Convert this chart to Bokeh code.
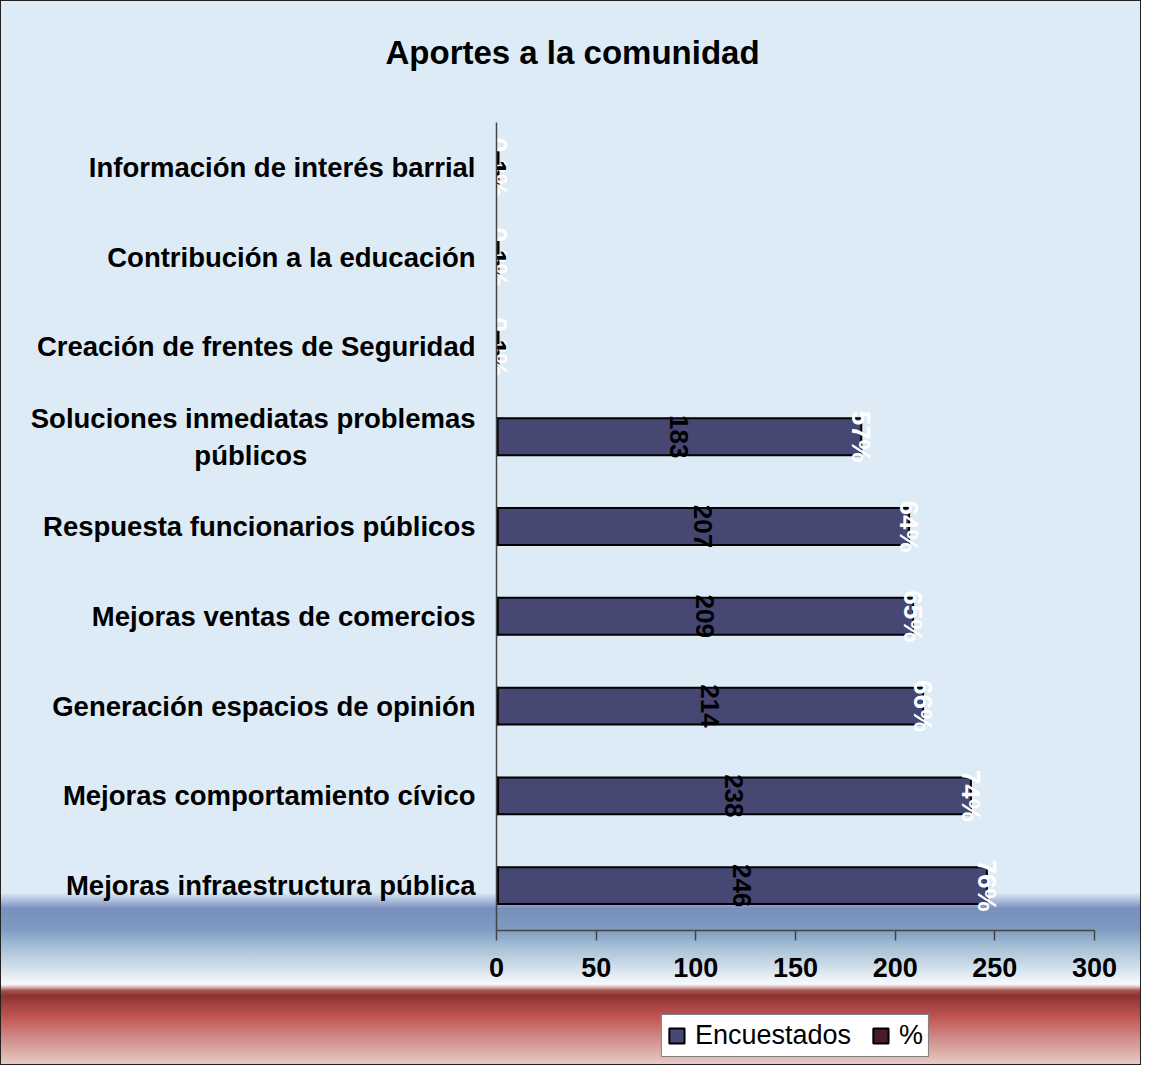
import math
from bokeh.plotting import figure
from bokeh.layouts import column
from bokeh.models import (ColumnDataSource, FactorRange, Range1d, SingleIntervalTicker,
                          Legend, LegendItem)
from bokeh.core.properties import value
from bokeh.embed import file_html
from bokeh.resources import INLINE

# ---- data (bottom to top) ----
categories = [
    "Mejoras infraestructura pública",
    "Mejoras comportamiento cívico",
    "Generación espacios de opinión",
    "Mejoras ventas de comercios",
    "Respuesta funcionarios públicos",
    # two-line label, second line padded so it sits centred under the first
    "Soluciones inmediatas problemas\npúblicos" + "\u00a0" * 22,
    "Creación de frentes de Seguridad",
    "Contribución a la educación",
    "Información de interés barrial",
]
encuestados = [246, 238, 214, 209, 207, 183, 1, 1, 1]
porcentaje = [0.7616, 0.7368, 0.6625, 0.6471, 0.6409, 0.5666, 0.0031, 0.0031, 0.0031]
x_ticks = [0, 50, 100, 150, 200, 250, 300]
series_names = ["Encuestados", "%"]
series_colors = ["#474774", "#4B1A2F"]
title_text = "Aportes a la comunidad"


def fmt_pct(v):
    if v >= 0.01:
        return f"{round(v * 100)}%"
    return f"{v * 100:.1f}%".replace(".", ",")


pct_labels = [fmt_pct(v) for v in porcentaje]
enc_labels = [str(v) for v in encuestados]
mid = [v / 2 for v in encuestados]

FONT = "Liberation Sans"
W = 1141
ML, MR = 496, 47


def strip(height, **kw):
    f = figure(width=W, height=height, output_backend="svg", toolbar_location=None,
               x_axis_type=None, y_axis_type=None,
               min_border_left=ML, min_border_right=MR, **kw)
    f.xgrid.visible = False
    f.ygrid.visible = False
    f.outline_line_color = None
    f.background_fill_alpha = 0
    f.border_fill_alpha = 0
    return f


# ---- title strip ----
pt = strip(122, title=title_text, min_border_top=0, min_border_bottom=0)
pt.title.align = "left"
pt.title.offset = -111
pt.title.standoff = 62
pt.title.text_font = FONT
pt.title.text_font_style = "bold"
pt.title.text_font_size = "33px"
pt.title.text_color = "black"

# ---- main chart ----
p = figure(width=W, height=878,
           y_range=FactorRange(factors=categories, range_padding=0),
           x_range=Range1d(x_ticks[0], x_ticks[-1]),
           output_backend="svg", toolbar_location=None, title=None,
           min_border_left=ML, min_border_right=MR,
           min_border_top=0, min_border_bottom=70)
p.xgrid.visible = False
p.ygrid.visible = False
p.outline_line_color = None
p.background_fill_alpha = 0
p.border_fill_alpha = 0

src = ColumnDataSource(dict(cat=categories, enc=encuestados, pct=porcentaje, mid=mid,
                            enc_lbl=enc_labels, pct_lbl=pct_labels))

r1 = p.hbar(y="cat", left=0, right="enc", height=0.41, source=src,
            fill_color=series_colors[0], line_color="black", line_width=2)
r2 = p.hbar(y="cat", left=0, right="pct", height=0.41, source=src,
            fill_color=series_colors[1], line_color="black", line_width=2)

t_pct = p.text(x="enc", y="cat", text="pct_lbl", source=src, angle=-math.pi / 2,
               text_color="white", text_font=value(FONT), text_font_style="bold",
               text_font_size="26px", text_align="center", text_baseline="middle")
t_enc = p.text(x="mid", y="cat", text="enc_lbl", source=src, angle=-math.pi / 2,
               text_color="black", text_font=value(FONT), text_font_style="bold",
               text_font_size="26px", text_align="center", text_baseline="middle")

# axes
xa = p.xaxis[0]
xa.ticker = SingleIntervalTicker(interval=50)
xa.major_tick_out = 10
xa.major_tick_in = 0
xa.minor_tick_line_color = None
xa.axis_line_color = "#444444"
xa.axis_line_width = 1.5
xa.major_tick_line_color = "#444444"
xa.major_tick_line_width = 1.5
xa.major_label_text_font = FONT
xa.major_label_text_font_style = "bold"
xa.major_label_text_font_size = "27px"
xa.major_label_text_color = "black"
xa.major_label_standoff = 17

ya = p.yaxis[0]
ya.major_tick_out = 0
ya.major_tick_in = 0
ya.minor_tick_line_color = None
ya.axis_line_color = "#444444"
ya.axis_line_width = 1.5
ya.major_label_text_font = FONT
ya.major_label_text_font_style = "bold"
ya.major_label_text_font_size = "27.5px"
ya.major_label_text_color = "black"
ya.major_label_standoff = 21

# ---- legend strip below the chart (frame aligned with the chart's frame) ----
pl = strip(65, title=None, min_border_top=0, min_border_bottom=8)
leg_src = ColumnDataSource(dict(y=list(range(len(encuestados))), enc=encuestados, pct=porcentaje))
leg_r = [pl.hbar(y="y", left=0, right=col, height=0.41, source=leg_src, fill_color=c,
                 line_color="black", line_width=2, visible=False)
         for col, c in zip(["enc", "pct"], series_colors)]

legend = Legend(items=[LegendItem(label=n, renderers=[r]) for n, r in zip(series_names, leg_r)],
                location="bottom_center", orientation="horizontal",
                border_line_color="black", border_line_width=1,
                background_fill_color="white", background_fill_alpha=1,
                label_text_font=FONT, label_text_font_size="27px",
                label_text_color="black", inactive_fill_alpha=0,
                glyph_width=19, glyph_height=19, padding=5, spacing=20,
                label_standoff=9, margin=0)
pl.add_layout(legend)

grad = ("linear-gradient(to bottom, #DDEBF6 0%, #DDEBF6 83.8%, #AFC2DE 84.5%, "
        "#7A8FBD 85.3%, #7C9BC0 87.2%, #A3BDD4 88.8%, #CCDBE8 90.6%, #F7FAFC 92.4%, "
        "#E8D2CF 92.6%, #A65654 93.0%, #8B3232 93.5%, #A44442 94.4%, #C05350 95.4%, "
        "#D08C88 97.5%, #E9CDC8 100%)")
layout = column(pt, p, pl, spacing=0,
                styles={"background": grad, "box-shadow": "inset 0 0 0 1px #222"})

open("out.html", "w").write(file_html(layout, INLINE))
